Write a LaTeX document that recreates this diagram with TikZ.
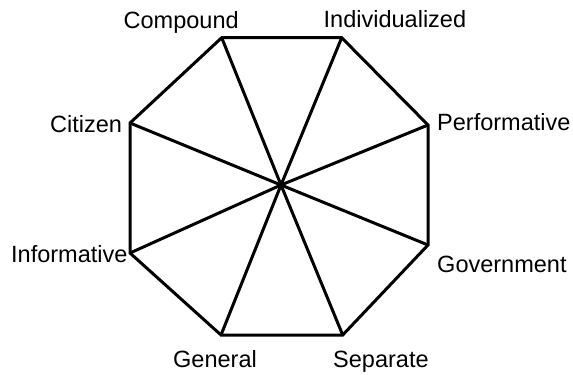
\documentclass[tikz,border=0pt]{standalone}
\usepackage{fontspec}
\setmainfont{Liberation Sans}
\begin{document}
\begin{tikzpicture}[x=1bp,y=-1bp,
  edge/.style={line width=3bp,line join=miter,line cap=butt},
  lbl/.style={inner sep=0pt,font=\fontsize{23.6}{27}\selectfont}]
\useasboundingbox (0,0) rectangle (573,374);
\coordinate (A) at (221.7,37.7);
\coordinate (B) at (341.7,37.7);
\coordinate (C) at (428,125);
\coordinate (D) at (428,245);
\coordinate (E) at (342.7,335);
\coordinate (F) at (221,335);
\coordinate (G) at (130,253);
\coordinate (H) at (130,123);
\coordinate (O) at (281,185);
\draw[edge] (A) -- (B) -- (C) -- (D) -- (E) -- (F) -- (G) -- (H) -- cycle;
\foreach \v in {A,B,C,D,E,F,G,H} \draw[edge] (O) -- (\v);
\node[lbl,anchor=base west] (lA) at (123.5,28) {Compound};
\node[lbl,anchor=base west] (lB) at (323.5,27.5) {Individualized};
\node[lbl,anchor=base west] (lH) at (50,132) {Citizen};
\node[lbl,anchor=base west] (lC) at (437,130.5) {Performative};
\node[lbl,anchor=base west] (lG) at (11,262) {Informative};
\node[lbl,anchor=base west] (lD) at (437,272) {Government};
\node[lbl,anchor=base west] (lF) at (173,367) {General};
\node[lbl,anchor=base west] (lE) at (333,367) {Separate};
\end{tikzpicture}
\end{document}
